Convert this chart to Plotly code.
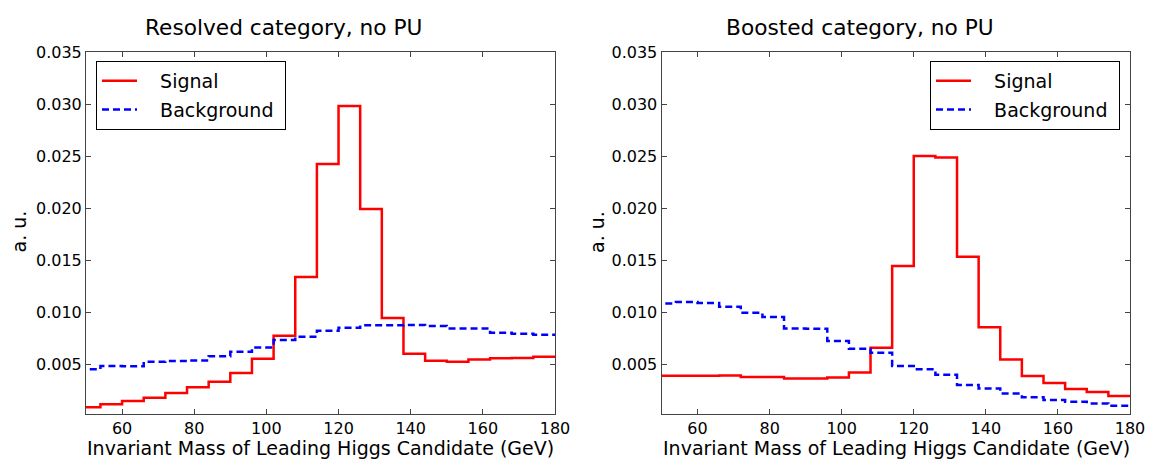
import plotly.graph_objects as go
from plotly.subplots import make_subplots

# Bin edges (GeV)
bin_edges = [48, 54, 60, 66, 72, 78, 84, 90, 96, 102, 108, 114, 120, 126, 132,
             138, 144, 150, 156, 162, 168, 174, 180]

# Resolved category, no PU
resolved_signal = [0.00084, 0.00113, 0.00144, 0.00176, 0.00221, 0.00276, 0.00330,
                   0.00413, 0.00551, 0.00772, 0.01337, 0.02423, 0.02980, 0.01990,
                   0.00942, 0.00599, 0.00532, 0.00522, 0.00545, 0.00555, 0.00558,
                   0.00570]
resolved_background = [0.00449, 0.00481, 0.00478, 0.00522, 0.00529, 0.00535, 0.00574,
                       0.00619, 0.00660, 0.00731, 0.00763, 0.00821, 0.00849, 0.00872,
                       0.00872, 0.00875, 0.00865, 0.00843, 0.00843, 0.00801, 0.00792,
                       0.00782]

# Boosted category, no PU
boosted_signal = [0.00388, 0.00387, 0.00387, 0.00389, 0.00375, 0.00375, 0.00362,
                  0.00362, 0.00372, 0.00420, 0.00657, 0.01442, 0.02500, 0.02487,
                  0.01532, 0.00853, 0.00545, 0.00385, 0.00317, 0.00260, 0.00231,
                  0.00192]
boosted_background = [0.01083, 0.01096, 0.01087, 0.01051, 0.00994, 0.00952, 0.00843,
                      0.00840, 0.00721, 0.00647, 0.00609, 0.00481, 0.00449, 0.00397,
                      0.00298, 0.00266, 0.00218, 0.00180, 0.00154, 0.00138, 0.00122,
                      0.00099]

titles = ["Resolved category, no PU", "Boosted category, no PU"]
series_names = ["Signal", "Background"]
x_label = "Invariant Mass of Leading Higgs Candidate (GeV)"
y_label = "a. u."
x_ticks = [60, 80, 100, 120, 140, 160, 180]
y_ticks = [0.005, 0.010, 0.015, 0.020, 0.025, 0.030, 0.035]

FONT = "DejaVu Sans"
W, H = 1150, 461
ML, MR, MT, MB = 86, 20, 52, 47
PW = W - ML - MR
PH = H - MT - MB

fig = make_subplots(rows=1, cols=2, horizontal_spacing=0.1024)


def steps(vals):
    return vals + [vals[-1]]


PAD = "\u00a0\u00a0\u00a0"
panels = [(resolved_signal, resolved_background, "legend"),
          (boosted_signal, boosted_background, "legend2")]
for i, (sig, bkg, lg) in enumerate(panels, start=1):
    fig.add_trace(go.Scatter(x=bin_edges, y=steps(sig), mode="lines", line_shape="hv",
                             line=dict(color="#ff0000", width=2.5),
                             name=PAD + series_names[0] + "\u00a0",
                             legend=lg, legendgroup="s"), row=1, col=i)
    fig.add_trace(go.Scatter(x=bin_edges, y=steps(bkg), mode="lines", line_shape="hv",
                             line=dict(color="#0000ff", width=2.5, dash="7px,4px"),
                             name=PAD + series_names[1] + "\u00a0",
                             legend=lg, legendgroup="b"),
                  row=1, col=i)

axis_common = dict(showline=True, linecolor="#444", linewidth=1, mirror="ticks",
                   ticks="inside", ticklen=5, tickcolor="#444", showgrid=False,
                   zeroline=False, automargin=False,
                   tickfont=dict(family=FONT, size=16, color="black"))

for i in (1, 2):
    fig.update_xaxes(range=[50, 180], tickvals=x_ticks,
                     ticktext=[str(v) for v in x_ticks], row=1, col=i, **axis_common)
    fig.update_yaxes(range=[0.0002, 0.035], tickvals=y_ticks,
                     ticktext=[f"{v:.3f}" for v in y_ticks], row=1, col=i, **axis_common)

fig.update_layout(xaxis=dict(domain=[0, 469 / PW]),
                  xaxis2=dict(domain=[(661.5 - ML) / PW, 1]))

legend_common = dict(bgcolor="white", bordercolor="black", borderwidth=1,
                     font=dict(family=FONT, size=19, color="black"),
                     traceorder="grouped", tracegroupgap=1, itemwidth=35,
                     yanchor="top")
fig.update_layout(
    legend=dict(x=(96 - ML) / PW, y=1 - (61 - MT) / PH, xanchor="left", **legend_common),
    legend2=dict(x=(1120 - ML) / PW, y=1 - (61 - MT) / PH, xanchor="right", **legend_common),
)

ann = []
for cx, t in zip([283, 860], titles):
    ann.append(dict(text=t, x=(cx - ML) / PW, y=1 + (MT - 27) / PH, xref="paper",
                    yref="paper", xanchor="center", yanchor="middle", showarrow=False,
                    font=dict(family=FONT, size=21.7, color="black")))
for cx in [320.5, 896]:
    ann.append(dict(text=x_label, x=(cx - ML) / PW, y=-(H - 1 - (H - MB)) / PH,
                    xref="paper", yref="paper", xanchor="center", yanchor="bottom",
                    borderpad=0, showarrow=False,
                    font=dict(family=FONT, size=19, color="black")))
for cx in [18.5, 597]:
    ann.append(dict(text=y_label, x=(cx - ML) / PW, y=1 - (232 - MT) / PH,
                    xref="paper", yref="paper", xanchor="center", yanchor="middle",
                    textangle=-90, showarrow=False,
                    font=dict(family=FONT, size=19, color="black")))

fig.update_layout(width=W, height=H, margin=dict(l=ML, r=MR, t=MT, b=MB),
                  plot_bgcolor="white", paper_bgcolor="white", annotations=ann,
                  font=dict(family=FONT))

fig.write_html("out.html")
